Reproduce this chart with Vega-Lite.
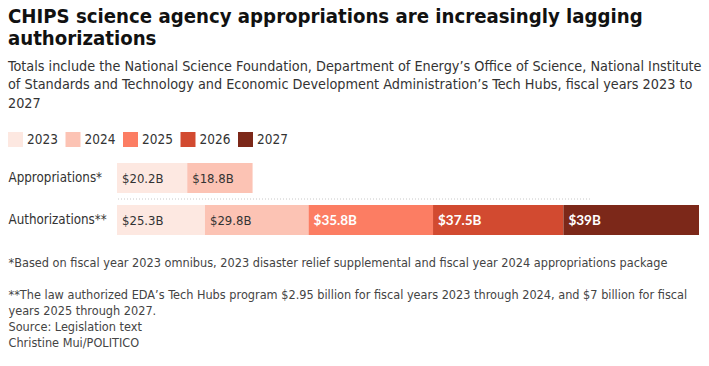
{
  "$schema": "https://vega.github.io/schema/vega-lite/v6.json",
  "autosize": "none",
  "width": 582,
  "height": 84,
  "padding": {"left": 117, "top": 157, "right": 10, "bottom": 125},
  "background": "white",
  "config": {"view": {"stroke": null}, "font": "DejaVu Sans Condensed, sans-serif"},
  "title": {
    "text": ["CHIPS science agency appropriations are increasingly lagging", "authorizations"],
    "subtitle": [
      "Totals include the National Science Foundation, Department of Energy’s Office of Science, National Institute",
      "of Standards and Technology and Economic Development Administration’s Tech Hubs, fiscal years 2023 to",
      "2027"
    ],
    "anchor": "start",
    "frame": "bounds",
    "font": "DejaVu Sans Condensed, sans-serif",
    "fontSize": 20.2,
    "fontWeight": "bold",
    "color": "#111111",
    "lineHeight": 22,
    "subtitleFont": "DejaVu Sans Condensed, sans-serif",
    "subtitleFontSize": 14.3,
    "subtitleLineHeight": 18.5,
    "subtitleColor": "#333333",
    "subtitlePadding": 11,
    "offset": 21
  },
  "data": {
    "values": [
      {"measure": "Appropriations*", "year": "2023", "value": 20.2, "label": "$20.2B"},
      {"measure": "Appropriations*", "year": "2024", "value": 18.8, "label": "$18.8B"},
      {"measure": "Authorizations**", "year": "2023", "value": 25.3, "label": "$25.3B"},
      {"measure": "Authorizations**", "year": "2024", "value": 29.8, "label": "$29.8B"},
      {"measure": "Authorizations**", "year": "2025", "value": 35.8, "label": "$35.8B"},
      {"measure": "Authorizations**", "year": "2026", "value": 37.5, "label": "$37.5B"},
      {"measure": "Authorizations**", "year": "2027", "value": 39, "label": "$39B"}
    ]
  },
  "transform": [
    {"stack": "value", "groupby": ["measure"], "sort": [{"field": "year", "order": "ascending"}], "as": ["x0", "x1"]}
  ],
  "encoding": {
    "y": {
      "field": "measure",
      "type": "nominal",
      "sort": ["Appropriations*", "Authorizations**"],
      "scale": {"paddingInner": 0.28, "paddingOuter": 0.14},
      "axis": {
        "title": null,
        "domain": false,
        "ticks": false,
        "tickSize": 0,
        "labelAlign": "left",
        "labelPadding": 109,
        "labelFontSize": 13.3,
        "labelColor": "#333333",
        "labelFont": "DejaVu Sans Condensed, sans-serif"
      }
    }
  },
  "layer": [
    {
      "transform": [{"filter": "datum.measure == 'Authorizations**' && datum.year == '2023'"}],
      "mark": {"type": "rule", "stroke": "#c8c8c8", "strokeDash": [1, 2], "strokeWidth": 1, "xOffset": -109, "yOffset": -21},
      "encoding": {}
    },
    {
      "mark": {"type": "bar"},
      "encoding": {
        "x": {
          "field": "x0",
          "type": "quantitative",
          "scale": {"domain": [0, 167.4], "nice": false},
          "axis": {
            "domain": false,
            "labels": false,
            "ticks": false,
            "grid": false,
            "title": [
              "*Based on fiscal year 2023 omnibus, 2023 disaster relief supplemental and fiscal year 2024 appropriations package",
              "\u200b",
              "**The law authorized EDA’s Tech Hubs program $2.95 billion for fiscal years 2023 through 2024, and $7 billion for fiscal",
              "years 2025 through 2027.",
              "Source: Legislation text",
              "Christine Mui/POLITICO"
            ],
            "titleAnchor": "start",
            "titleAlign": "left",
            "titleX": -109,
            "titleY": 15,
            "titleBaseline": "top",
            "titleFontSize": 12.6,
            "titleFontWeight": "normal",
            "titleColor": "#444444",
            "titleLineHeight": 16,
            "titleFont": "DejaVu Sans Condensed, sans-serif"
          }
        },
        "x2": {"field": "x1"},
        "color": {
          "field": "year",
          "type": "nominal",
          "scale": {
            "domain": ["2023", "2024", "2025", "2026", "2027"],
            "range": ["#fde8e1", "#fcc3b4", "#fc7d63", "#d24a30", "#7c2819"]
          },
          "legend": {
            "title": null,
            "orient": "none",
            "legendX": -109,
            "legendY": -25,
            "direction": "horizontal",
            "symbolType": "square",
            "symbolSize": 225,
            "symbolStrokeWidth": 0,
            "symbolOpacity": 1,
            "labelFontSize": 13.5,
            "labelOffset": 4,
            "columnPadding": 7.5,
            "labelColor": "#333333",
            "labelFont": "DejaVu Sans Condensed, sans-serif"
          }
        }
      }
    },
    {
      "transform": [{"filter": "datum.year == '2023' || datum.year == '2024'"}],
      "mark": {"type": "text", "align": "left", "baseline": "middle", "dx": 5, "dy": 1, "fontSize": 13, "color": "#333333", "font": "DejaVu Sans Condensed, sans-serif"},
      "encoding": {
        "x": {"field": "x0", "type": "quantitative"},
        "text": {"field": "label"}
      }
    },
    {
      "transform": [{"filter": "datum.year != '2023' && datum.year != '2024'"}],
      "mark": {"type": "text", "align": "left", "baseline": "middle", "dx": 5, "dy": 1, "fontSize": 13.5, "fontWeight": "bold", "color": "#ffffff", "font": "Lato, sans-serif"},
      "encoding": {
        "x": {"field": "x0", "type": "quantitative"},
        "text": {"field": "label"}
      }
    }
  ]
}
